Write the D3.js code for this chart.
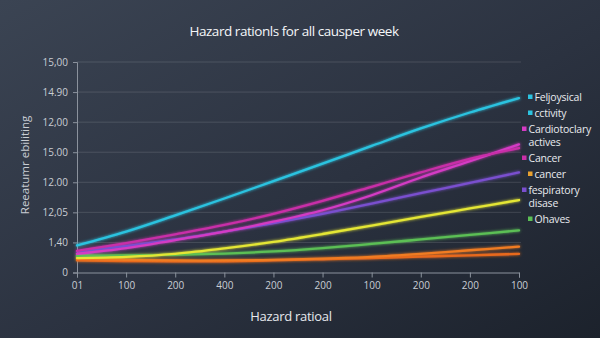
<!DOCTYPE html>
<html>
<head>
<meta charset="utf-8">
<script src="https://cdn.jsdelivr.net/npm/d3@7/dist/d3.min.js"></script>
<style>
  html, body { margin: 0; padding: 0; background: #262d39; }
  svg { display: block; font-family: "Open Sans", "Noto Sans", sans-serif; }
</style>
</head>
<body>
<svg id="chart" width="600" height="338"></svg>
<script>
// Category labels along the x axis
const xLabels = ["01", "100", "200", "400", "200", "200", "100", "200", "200", "100"];
// Labels for the y ticks (bottom to top)
const yLabels = ["0", "1,40", "12,05", "12.00", "15.00", "12,00", "14.90", "15,00"];

// Series values, one per x category
const cyanSeries     = [0.90, 1.36, 1.90, 2.46, 3.04, 3.62, 4.21, 4.79, 5.32, 5.80];
const magentaSeries  = [0.72, 0.98, 1.27, 1.58, 1.95, 2.38, 2.85, 3.33, 3.78, 4.14];
const pinkSeries     = [0.62, 0.81, 1.08, 1.36, 1.69, 2.07, 2.57, 3.16, 3.70, 4.26];
const purpleSeries   = [0.70, 0.88, 1.10, 1.36, 1.64, 1.95, 2.29, 2.64, 2.98, 3.33];
const yellowSeries   = [0.48, 0.52, 0.62, 0.80, 1.02, 1.28, 1.56, 1.85, 2.13, 2.41];
const greenSeries    = [0.55, 0.57, 0.59, 0.63, 0.70, 0.81, 0.95, 1.10, 1.25, 1.40];
const orangeSeries   = [0.45, 0.42, 0.40, 0.40, 0.42, 0.46, 0.52, 0.62, 0.74, 0.86];
const orange2Series  = [0.40, 0.38, 0.37, 0.37, 0.40, 0.44, 0.48, 0.53, 0.57, 0.62];

const seriesList = [
  { values: orange2Series, color: "#e8691f" },
  { values: orangeSeries,  color: "#f07b22" },
  { values: greenSeries,   color: "#5bbf55" },
  { values: yellowSeries,  color: "#e4e634" },
  { values: purpleSeries,  color: "#7a4fcf" },
  { values: pinkSeries,    color: "#d43bc4" },
  { values: magentaSeries, color: "#c92fa8" },
  { values: cyanSeries,    color: "#2cc3e0" }
];

// Legend entries
const legendLabels = [["Feljoysical"], ["cctivity"], ["Cardiotoclary", "actives"], ["Cancer"], ["cancer"], ["fespiratory", "disase"], ["Ohaves"]];
const legendColors = ["#2cc3e0", "#2cc3e0", "#d43bc4", "#c92fa8", "#e8a130", "#7a4fcf", "#5bbf55"];
const legendInset  = [true, true, false, false, true, false, true];

const svg = d3.select("#chart");
const W = 600, H = 338;

// background
const defs = svg.append("defs");
const bg = defs.append("linearGradient").attr("id", "bg")
  .attr("x1", "0").attr("y1", "0").attr("x2", "1").attr("y2", "1");
bg.append("stop").attr("offset", "0%").attr("stop-color", "#3b4453");
bg.append("stop").attr("offset", "55%").attr("stop-color", "#2b3240");
bg.append("stop").attr("offset", "100%").attr("stop-color", "#1c222c");
svg.append("rect").attr("width", W).attr("height", H).attr("fill", "url(#bg)");

const glow = defs.append("filter").attr("id", "glow")
  .attr("x", "-5%").attr("y", "-20%").attr("width", "110%").attr("height", "140%");
glow.append("feGaussianBlur").attr("in", "SourceGraphic").attr("stdDeviation", 1.6).attr("result", "b");
const fm = glow.append("feMerge");
fm.append("feMergeNode").attr("in", "b");
fm.append("feMergeNode").attr("in", "SourceGraphic");

const x = d3.scaleLinear().domain([0, xLabels.length - 1]).range([77, 519]);
const y = d3.scaleLinear().domain([0, yLabels.length - 1]).range([272.5, 62]);

// grid
svg.append("g")
  .selectAll("line")
  .data(d3.range(1, yLabels.length))
  .join("line")
  .attr("x1", x(0)).attr("x2", 521)
  .attr("y1", d => y(d)).attr("y2", d => y(d))
  .attr("stroke", "#ffffff").attr("stroke-opacity", 0.13).attr("stroke-width", 1);

// y axis
const yAxis = d3.axisLeft(y)
  .tickValues(d3.range(yLabels.length))
  .tickFormat(i => yLabels[i])
  .tickSize(4).tickPadding(5);
const gy = svg.append("g").attr("transform", `translate(${x(0)},0)`).call(yAxis);
gy.select(".domain").attr("stroke", "#8b929d");
gy.selectAll(".tick line").attr("stroke", "#8b929d");
gy.selectAll(".tick text").attr("fill", "#c9cdd4").attr("font-size", 10)
  .attr("font-family", "'Open Sans', sans-serif");

// x axis
const xAxis = d3.axisBottom(x)
  .tickValues(d3.range(xLabels.length))
  .tickFormat(i => xLabels[i])
  .tickSize(5).tickPadding(4);
const gx = svg.append("g").attr("transform", `translate(0,${y(0)})`).call(xAxis);
gx.select(".domain").attr("stroke", "#8b929d");
gx.selectAll(".tick line").attr("stroke", "#8b929d");
gx.selectAll(".tick text").attr("fill", "#c9cdd4").attr("font-size", 10)
  .attr("font-family", "'Open Sans', sans-serif");

// lines
const line = d3.line()
  .x((d, i) => x(i))
  .y(d => y(d))
  .curve(d3.curveCatmullRom.alpha(0.5));

svg.append("g").attr("filter", "url(#glow)")
  .selectAll("path")
  .data(seriesList)
  .join("path")
  .attr("d", d => line(d.values))
  .attr("fill", "none")
  .attr("stroke", d => d.color)
  .attr("stroke-width", 2.3)
  .attr("stroke-linecap", "round");

// title
svg.append("text")
  .attr("x", 294).attr("y", 36)
  .attr("text-anchor", "middle")
  .attr("fill", "#f4f6f9")
  .attr("font-size", 13.5)
  .attr("letter-spacing", -0.45)
  .text("Hazard rationls for all causper week");

// x axis title
svg.append("text")
  .attr("x", 291).attr("y", 321)
  .attr("text-anchor", "middle")
  .attr("fill", "#e6e9ee")
  .attr("font-size", 13)
  .attr("letter-spacing", -0.3)
  .text("Hazard ratioal");

// y axis title
svg.append("text")
  .attr("transform", "translate(29,165) rotate(-90)")
  .attr("text-anchor", "middle")
  .attr("fill", "#c9cdd4")
  .attr("font-size", 11.5)
  .text("Reeatumr ebiliting");

// legend
const legend = svg.append("g").attr("font-size", 10.5).attr("fill", "#e8eaee");
let ly = 97;
legendLabels.forEach((lines, i) => {
  const sx = legendInset[i] ? 530 : 524;
  legend.append("rect")
    .attr("x", sx - 2).attr("y", ly - 2.5)
    .attr("width", 4.5).attr("height", 4.5)
    .attr("fill", legendColors[i]);
  lines.forEach((t, j) => {
    legend.append("text")
      .attr("x", sx + 4.5).attr("y", ly + j * 13)
      .attr("dy", "0.35em")
      .attr("letter-spacing", -0.2)
      .text(t);
  });
  ly += lines.length * 13 + 3;
});
</script>
</body>
</html>
